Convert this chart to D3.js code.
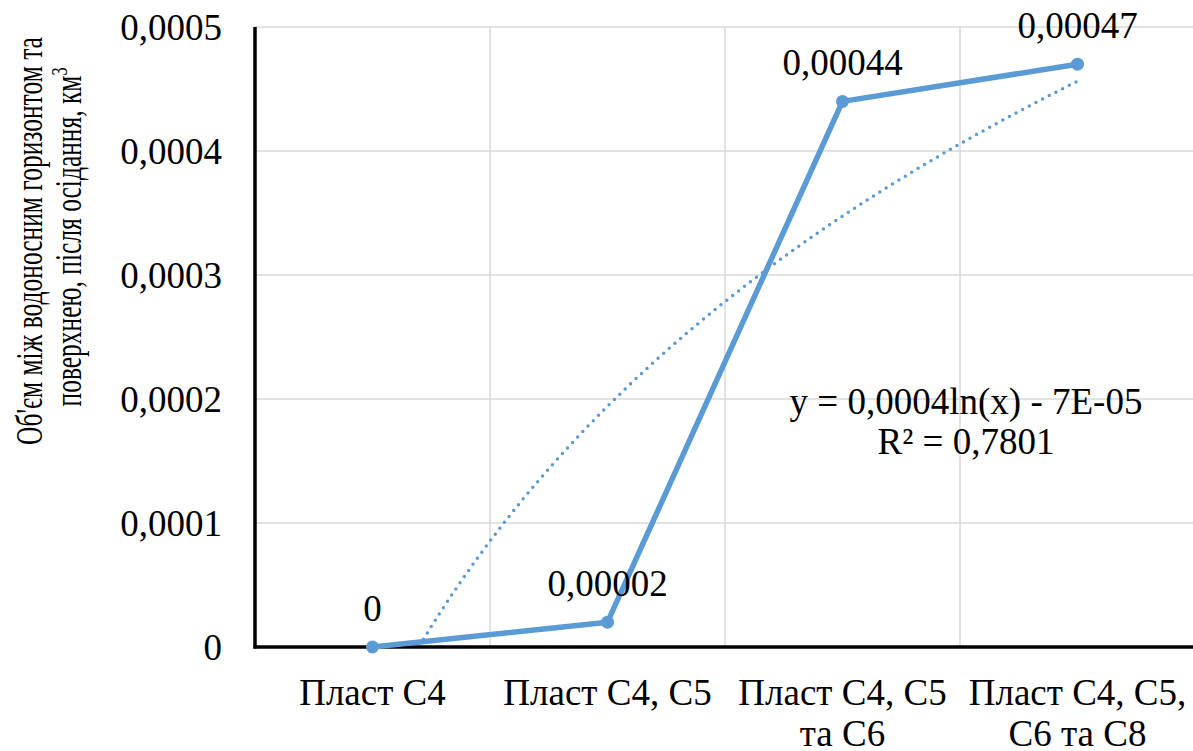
<!DOCTYPE html>
<html>
<head>
<meta charset="utf-8">
<script src="https://cdn.jsdelivr.net/npm/d3@7"></script>
</head>
<body style="margin:0;padding:0;background:#fff">
<svg id="chart" width="1193" height="751" style="display:block"></svg>
<script>
// Layers (categories) and the water volume between aquifer and surface after subsidence, km³
const categories = [
  ["Пласт С4"],
  ["Пласт С4, С5"],
  ["Пласт С4, С5", "та С6"],
  ["Пласт С4, С5,", "С6 та С8"]
];
const volumes = [0, 0.00002, 0.00044, 0.00047];
const yTicks = [0, 0.0001, 0.0002, 0.0003, 0.0004, 0.0005];
const yTitleLines = ["Об'єм між водоносним горизонтом та", "поверхнею, після осідання, км"];

const FONT = '"Liberation Serif"';
const svg = d3.select("#chart");
const plot = { left: 255, right: 1195, top: 27, bottom: 647 };
const FS = 37;
const blue = "#5B9BD5";

const loc = d3.formatLocale({ decimal: ",", thousands: " ", grouping: [3], currency: ["", ""] });
const tickFmt = loc.format(".4~f");
const labelFmt = loc.format(".5~f");

const keys = categories.map((c, i) => i);
const x = d3.scalePoint().domain(keys).range([plot.left, plot.right]).padding(0.5);
const xBand = d3.scaleBand().domain(keys).range([plot.left, plot.right]).padding(0);
const y = d3.scaleLinear().domain([0, 0.0005]).range([plot.bottom, plot.top]);

const txt = sel => sel.style("font-family", FONT).attr("font-size", FS).attr("fill", "#000");

// Gridlines
const grid = svg.append("g").attr("stroke", "#d9d9d9").attr("stroke-width", 1.5);
grid.selectAll("line.h").data(yTicks.filter(d => d > 0)).join("line")
  .attr("x1", plot.left).attr("x2", plot.right)
  .attr("y1", d => y(d)).attr("y2", d => y(d));
grid.selectAll("line.v").data(keys.slice(1).concat([keys.length])).join("line")
  .attr("x1", d => plot.left + d * xBand.bandwidth())
  .attr("x2", d => plot.left + d * xBand.bandwidth())
  .attr("y1", plot.top).attr("y2", plot.bottom);

// Y axis
const yAxis = svg.append("g")
  .attr("transform", `translate(${plot.left},0)`)
  .call(d3.axisLeft(y).tickValues(yTicks).tickSize(0).tickPadding(33).tickFormat(d => tickFmt(d)));
yAxis.select(".domain").remove();
yAxis.attr("font-family", null);
yAxis.selectAll("text").call(txt).attr("dy", "0.35em");

// X axis labels (wrapped)
const xl = svg.append("g");
categories.forEach((lines, i) => {
  const t = xl.append("text").call(txt).attr("text-anchor", "middle")
    .attr("x", x(i)).attr("y", 705);
  lines.forEach((ln, j) => {
    t.append("tspan").attr("x", x(i)).attr("dy", j === 0 ? 0 : 41).text(ln);
  });
});

// Axis lines
svg.append("line").attr("x1", plot.left).attr("x2", plot.left)
  .attr("y1", plot.top).attr("y2", plot.bottom + 1.5)
  .attr("stroke", "#000").attr("stroke-width", 3.5);
svg.append("line").attr("x1", plot.left - 1.5).attr("x2", plot.right)
  .attr("y1", plot.bottom).attr("y2", plot.bottom)
  .attr("stroke", "#000").attr("stroke-width", 3.5);

// Logarithmic trendline (least squares on ln(x), x = 1..n)
const lx = volumes.map((v, i) => Math.log(i + 1));
const mx = d3.mean(lx), my = d3.mean(volumes);
const sxy = d3.sum(lx, (v, i) => (v - mx) * (volumes[i] - my));
const sxx = d3.sum(lx, v => (v - mx) ** 2);
const syy = d3.sum(volumes, v => (v - my) ** 2);
const b = sxy / sxx, a = my - b * mx;
const r2 = b * sxy / syy;

svg.append("clipPath").attr("id", "plotClip").append("rect")
  .attr("x", plot.left).attr("y", plot.top - 10)
  .attr("width", plot.right - plot.left).attr("height", plot.bottom - plot.top + 10 - 2);

const trendPts = d3.range(0, 301).map(k => {
  const xv = 1 + k * (volumes.length - 1) / 300;
  return [x(0) + (xv - 1) * x.step(), y(a + b * Math.log(xv))];
});
svg.append("path")
  .attr("clip-path", "url(#plotClip)")
  .attr("d", d3.line()(trendPts))
  .attr("fill", "none").attr("stroke", blue).attr("stroke-width", 3.5)
  .attr("stroke-linecap", "round").attr("stroke-dasharray", "0 7.5");

// Data line and markers
svg.append("path")
  .attr("d", d3.line().x((d, i) => x(i)).y(d => y(d))(volumes))
  .attr("fill", "none").attr("stroke", blue).attr("stroke-width", 5.5)
  .attr("stroke-linejoin", "round");
svg.append("g").selectAll("circle").data(volumes).join("circle")
  .attr("cx", (d, i) => x(i)).attr("cy", d => y(d)).attr("r", 6.5).attr("fill", blue);

// Data labels
svg.append("g").selectAll("text").data(volumes).join("text")
  .call(txt).attr("text-anchor", "middle")
  .attr("x", (d, i) => x(i)).attr("y", d => y(d) - 26)
  .text(d => labelFmt(d));

// Trendline equation
const sig1 = v => +v.toPrecision(1);
const expFmt = v => {
  const e = Math.floor(Math.log10(Math.abs(v)));
  const m = Math.round(Math.abs(v) / 10 ** e);
  return `${m}E${e < 0 ? "-" : "+"}${String(Math.abs(e)).padStart(2, "0")}`;
};
const eq = `y = ${loc.format("~f")(sig1(b))}ln(x) ${a < 0 ? "-" : "+"} ${expFmt(a)}`;
svg.append("text").call(txt).attr("text-anchor", "middle").attr("x", 966).attr("y", 414).text(eq);
svg.append("text").call(txt).attr("text-anchor", "middle").attr("x", 966).attr("y", 454)
  .text(`R² = ${loc.format(".4f")(r2)}`);

// Y axis title: two condensed lines, read bottom-to-top
const titleFS = 38;
const yt = svg.append("g");
const t1 = yt.append("text").call(txt).attr("font-size", titleFS).attr("text-anchor", "middle")
  .attr("x", 0).attr("y", 0).text(yTitleLines[0]);
const t2 = yt.append("text").call(txt).attr("font-size", titleFS).attr("text-anchor", "middle")
  .attr("x", 0).attr("y", 39);
t2.append("tspan").text(yTitleLines[1]);
t2.append("tspan").attr("dy", -14).attr("font-size", 24).text("3");
const squeeze = 408 / t1.node().getComputedTextLength();
yt.attr("transform", `translate(42,241) rotate(-90) scale(${squeeze},1)`);
t2.attr("x", 6);
</script>
</body>
</html>
